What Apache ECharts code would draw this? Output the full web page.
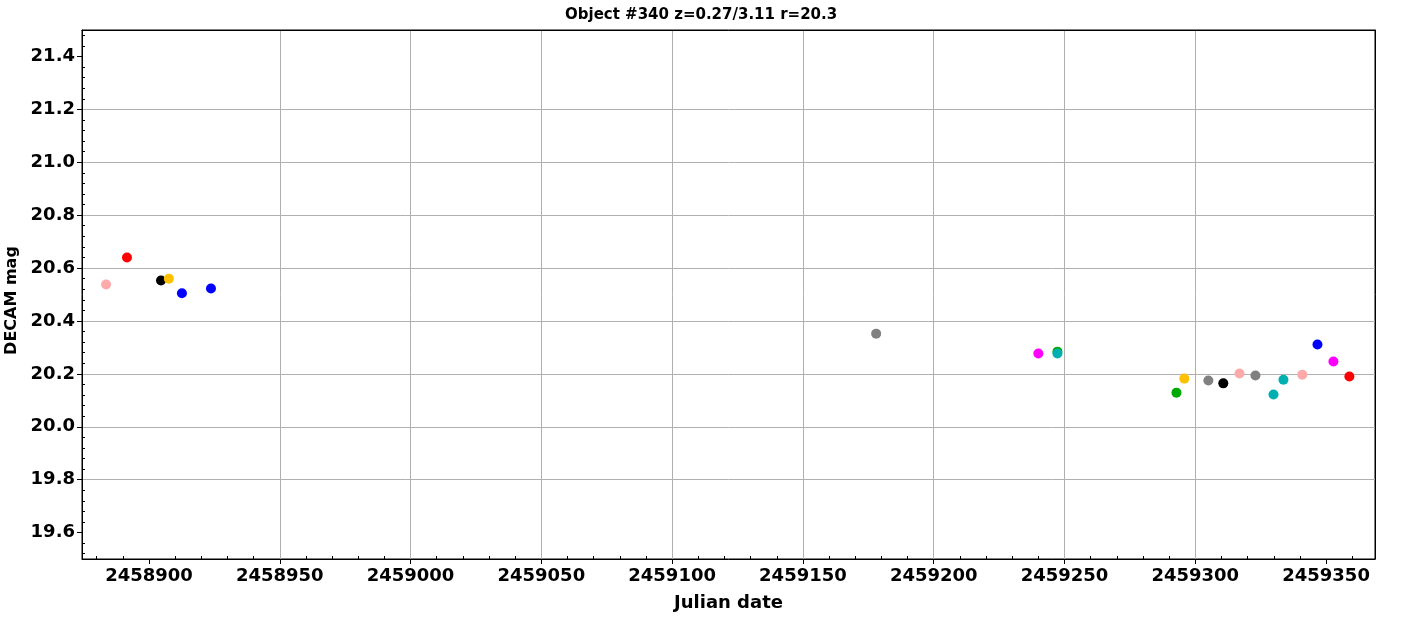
<!DOCTYPE html>
<html><head><meta charset="utf-8">
<script src="https://cdn.jsdelivr.net/npm/echarts@6/dist/echarts.min.js"></script>
<style>html,body{margin:0;padding:0;background:#fff}#chart{width:1422px;height:617px}</style>
</head><body><div id="chart"></div>
<script>
// ---- data (Julian date, DECAM mag) ----
const pinkJD = [2458883.6, 2459316.9, 2459340.9];
const pinkMag = [20.538, 20.201, 20.197];
const redJD = [2458891.6, 2459358.9];
const redMag = [20.640, 20.190];
const blackJD = [2458904.6, 2459310.7];
const blackMag = [20.553, 20.164];
const orangeJD = [2458907.6, 2459295.8];
const orangeMag = [20.560, 20.182];
const blueJD = [2458912.6, 2458923.7, 2459346.7];
const blueMag = [20.505, 20.523, 20.311];
const grayJD = [2459178.0, 2459305.0, 2459323.0];
const grayMag = [20.352, 20.175, 20.194];
const magentaJD = [2459240.0, 2459352.8];
const magentaMag = [20.277, 20.247];
const greenJD = [2459247.3, 2459292.8];
const greenMag = [20.284, 20.129];
const cyanJD = [2459247.3, 2459329.9, 2459333.7];
const cyanMag = [20.277, 20.122, 20.178];

// ---- axes ----
const xTicks = [2458900, 2458950, 2459000, 2459050, 2459100, 2459150, 2459200, 2459250, 2459300, 2459350];
const yTicks = [19.6, 19.8, 20.0, 20.2, 20.4, 20.6, 20.8, 21.0, 21.2, 21.4];
const X_MIN = 2458874.4, X_MAX = 2459368.7;
const Y_MIN = 19.5, Y_MAX = 21.5;
const xMinor = [];
for (let v = 2458880; v <= 2459360; v += 10) if (v % 50 !== 0) xMinor.push(v);
const yMinor = [];
for (let k = 488; k <= 537; k++) { if (k % 5 !== 0) yMinor.push(+(k * 0.04).toFixed(2)); }

const FONT = 'DejaVu Sans';
const tickFont = {fontSize: 18, fontWeight: 'bold', fontFamily: FONT, color: '#000'};

const groups = [
  {c: '#ffaaaa', x: pinkJD, y: pinkMag},
  {c: '#ff0000', x: redJD, y: redMag},
  {c: '#000000', x: blackJD, y: blackMag},
  {c: '#ffc000', x: orangeJD, y: orangeMag},
  {c: '#0000ff', x: blueJD, y: blueMag},
  {c: '#808080', x: grayJD, y: grayMag},
  {c: '#ff00ff', x: magentaJD, y: magentaMag},
  {c: '#00aa00', x: greenJD, y: greenMag},
  {c: '#00b0b0', x: cyanJD, y: cyanMag}
];

const chart = echarts.init(document.getElementById('chart'), null, {renderer: 'canvas'});
chart.setOption({
  animation: false,
  backgroundColor: '#fff',
  title: {
    text: 'Object #340 z=0.27/3.11 r=20.3',
    left: 560, top: 3,
    textStyle: {fontSize: 15, fontWeight: 'bold', fontFamily: FONT, color: '#000'}
  },
  grid: {left: 82, right: 47, top: 30, bottom: 58, outerBoundsMode: 'none', containLabel: false,
         show: true, borderColor: '#000', borderWidth: 1, backgroundColor: 'transparent'},
  xAxis: [
    {
      type: 'value', min: X_MIN, max: X_MAX, splitNumber: 10, position: 'bottom',
      axisLine: {show: true, lineStyle: {color: '#000', width: 1}},
      axisTick: {show: true, inside: false, length: 5, customValues: xTicks, lineStyle: {color: '#000'}},
      axisLabel: Object.assign({customValues: xTicks, margin: 8, formatter: v => String(v)}, tickFont),
      splitLine: {show: true, showMinLine: false, showMaxLine: false, lineStyle: {color: '#b0b0b0', width: 1}},
      name: 'Julian date', nameLocation: 'middle', nameGap: 35,
      nameTextStyle: {fontSize: 18, fontWeight: 'bold', fontFamily: FONT, color: '#000'}
    },
    {
      type: 'value', min: X_MIN, max: X_MAX, position: 'bottom',
      axisLine: {show: false},
      axisTick: {show: true, inside: true, length: 3, customValues: xMinor, lineStyle: {color: '#000'}},
      axisLabel: {show: false}, splitLine: {show: false}
    },
    {
      type: 'value', min: X_MIN, max: X_MAX, position: 'top',
      axisLine: {show: true, lineStyle: {color: '#000', width: 1}},
      axisTick: {show: false}, axisLabel: {show: false}, splitLine: {show: false}
    }
  ],
  yAxis: [
    {
      type: 'value', min: Y_MIN, max: Y_MAX, splitNumber: 10, position: 'left',
      axisLine: {show: true, lineStyle: {color: '#000', width: 1}},
      axisTick: {show: true, inside: false, length: 5, customValues: yTicks, lineStyle: {color: '#000'}},
      axisLabel: Object.assign({customValues: yTicks, margin: 7, formatter: v => v.toFixed(1)}, tickFont),
      splitLine: {show: true, showMinLine: false, showMaxLine: false, lineStyle: {color: '#b0b0b0', width: 1}},
      name: 'DECAM mag', nameLocation: 'middle', nameGap: 55,
      nameTextStyle: {fontSize: 16, fontWeight: 'bold', fontFamily: FONT, color: '#000', padding: [0, 12, 0, 0]}
    },
    {
      type: 'value', min: Y_MIN, max: Y_MAX, position: 'left',
      axisLine: {show: false},
      axisTick: {show: true, inside: true, length: 3, customValues: yMinor, lineStyle: {color: '#000'}},
      axisLabel: {show: false}, splitLine: {show: false}
    },
    {
      type: 'value', min: Y_MIN, max: Y_MAX, position: 'right',
      axisLine: {show: true, lineStyle: {color: '#000', width: 1}},
      axisTick: {show: false}, axisLabel: {show: false}, splitLine: {show: false}
    }
  ],
  series: groups.map(g => ({
    type: 'scatter', xAxisIndex: 0, yAxisIndex: 0,
    symbol: 'circle', symbolSize: 10,
    itemStyle: {color: g.c, opacity: 1},
    data: g.x.map((d, i) => [d, g.y[i]])
  }))
});
</script>
</body></html>
